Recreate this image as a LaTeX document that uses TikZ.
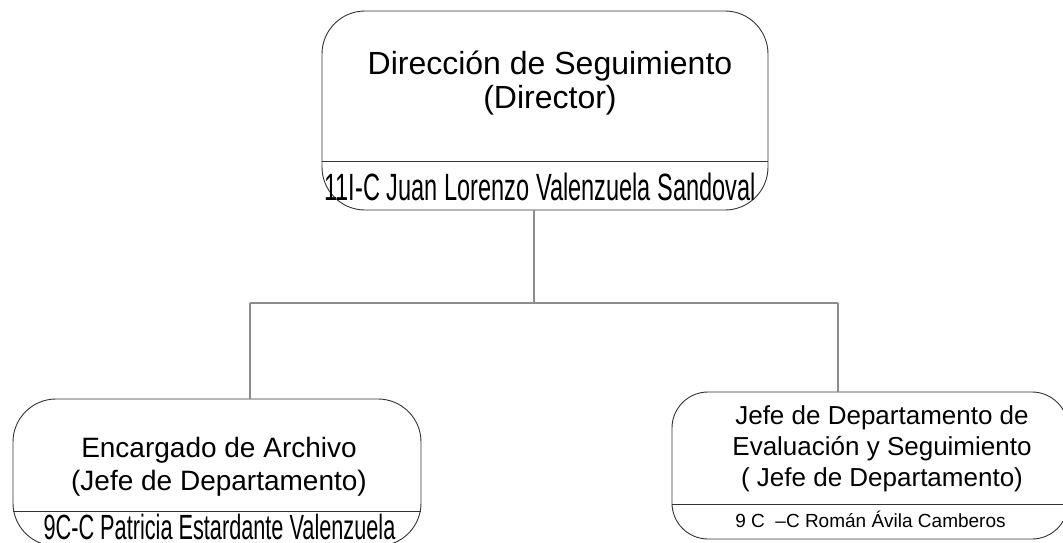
\documentclass[tikz,border=0pt]{standalone}
\usepackage{fontspec}
\setmainfont{Liberation Sans}
\newfontfamily\narrowfont[FakeStretch=0.62]{Liberation Sans}

\begin{document}
\begin{tikzpicture}
  [x=1pt,y=-1pt,
   orgbox/.style={draw=black!80,line width=0.9pt,rounded corners=43pt,inner sep=0pt},
   titletext/.style={align=center,inner sep=0pt},
   nametext/.style={anchor=base,inner sep=0pt},
   link/.style={draw=black!45,line width=1.4pt}]

  \useasboundingbox (0,0) rectangle (1063,542);

  % boxes
  \node[orgbox,minimum width=446pt,minimum height=199pt] (dir) at (545,110.5) {};
  \node[orgbox,minimum width=408pt,minimum height=147pt] (arch) at (217,472.5) {};
  \node[orgbox,rounded corners=36pt,minimum width=396pt,minimum height=147pt] (eval) at (870,465.5) {};

  \draw[draw=black!80,line width=0.9pt] (dir.west |- 0,161) -- (dir.east |- 0,161);
  \draw[draw=black!80,line width=0.9pt] (arch.west |- 0,511) -- (arch.east |- 0,511);
  \draw[draw=black!80,line width=0.9pt] (eval.west |- 0,504) -- (eval.east |- 0,504);

  % texts
  \node[titletext,font=\fontsize{32}{34}\selectfont] (dirt) at (550,83.5) {Dirección de Seguimiento\\(Director)};
  \node[nametext,font=\narrowfont\fontsize{38}{38}\selectfont] (dirn) at (540,200) {11I-C Juan Lorenzo Valenzuela Sandoval};

  \node[titletext,font=\fontsize{28}{33}\selectfont] (archt) at (219,467) {Encargado de Archivo\\(Jefe de Departamento)};
  \node[nametext,font=\narrowfont\fontsize{35}{35}\selectfont] (archn) at (219.5,539.5) {9C-C Patricia Estardante Valenzuela};

  \node[titletext,font=\fontsize{26}{31}\selectfont] (evalt) at (882,449) {Jefe de Departamento de\\Evaluación y Seguimiento\\( Jefe de Departamento)};
  \node[nametext,font=\fontsize{19}{19}\selectfont] (evaln) at (870.5,527) {9 C\ \ –C Román Ávila Camberos};

  % connectors
  \coordinate (split) at (534,303);
  \coordinate (jl) at (250,303);
  \coordinate (jr) at (838,303);
  \draw[link] (dir.south -| split) -- (split);
  \draw[link] (jl) -- (jr);
  \draw[link] (jl) -- (jl |- arch.north);
  \draw[link] (jr) -- (jr |- eval.north);

\end{tikzpicture}
\end{document}
